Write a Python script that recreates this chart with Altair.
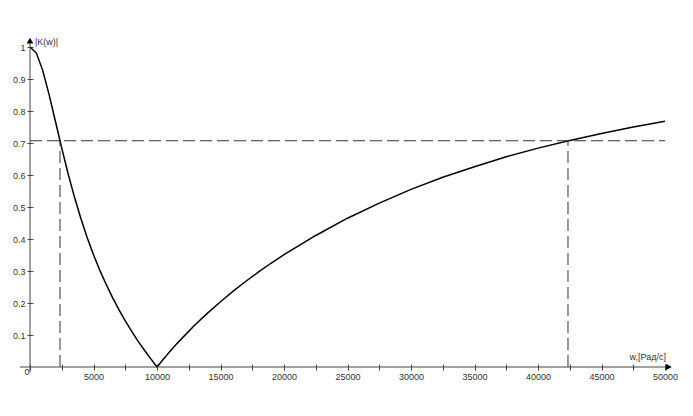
import altair as alt
import pandas as pd

# frequency (rad/s) and |K(w)|
w_vals = [0, 500, 1000, 1500, 2000, 2362, 2500, 3000, 3500, 4000, 4500, 5000, 5500,
          6000, 6500, 7000, 7500, 8000, 8500, 9000, 9500, 10000,
          10500, 11000, 11500, 12000, 13000, 14000, 15000, 16000, 17000, 18000, 19000,
          20000, 22500, 25000, 27500, 30000,
          32500, 35000, 37500, 40000, 42500, 45000, 47500, 50000]
k_vals = [1.0, 0.981, 0.927, 0.852, 0.768, 0.707, 0.684, 0.604, 0.531, 0.465, 0.405, 0.351, 0.302,
          0.258, 0.217, 0.179, 0.144, 0.112, 0.081, 0.053, 0.026, 0.0,
          0.024, 0.048, 0.070, 0.091, 0.132, 0.169, 0.204, 0.237, 0.268, 0.297, 0.325,
          0.351, 0.411, 0.465, 0.512, 0.555,
          0.593, 0.626, 0.657, 0.684, 0.708, 0.730, 0.750, 0.768]

level = 0.707
w_cut = [2362, 42362]
x_ticks = list(range(0, 50001, 2500))
y_ticks = [0.1, 0.2, 0.3, 0.4, 0.5, 0.6, 0.7, 0.8, 0.9, 1.0]
x_axis_extent = [-800, 50300]
y_axis_extent = [-0.016, 1.02]

FONT = "Liberation Sans"
AX = "#444444"

xs = alt.Scale(domain=[0, 50000], nice=False, zero=False)
ys = alt.Scale(domain=[0, 1], nice=False, zero=False)

curve_df = pd.DataFrame({"w": w_vals, "k": k_vals})

AXX = alt.Axis(values=x_ticks, offset=-3, tickSize=6, domain=False, grid=False,
               labelExpr="datum.value % 5000 == 0 && datum.value > 0 ? datum.label : ''",
               format="d", labelPadding=2, labelFontSize=9, labelFont=FONT,
               labelColor="#333333", tickColor=AX, title=None, labelFlush=False,
               labelOverlap=False)
AXY = alt.Axis(values=y_ticks, offset=-3, tickSize=6, domain=False, grid=False,
               format="~g", labelPadding=2, labelFontSize=9, labelFont=FONT,
               labelColor="#333333", tickColor=AX, title=None, labelOverlap=False,
               labelFlush=False)


def X(f):
    return alt.X(f, scale=xs, axis=AXX)


def Y(f):
    return alt.Y(f, scale=ys, axis=AXY)


curve = alt.Chart(curve_df).mark_line(color="black", strokeWidth=1.5, interpolate="linear").encode(
    x=X("w:Q"), y=Y("k:Q"))

hline = alt.Chart(pd.DataFrame({"x1": [0], "x2": [50000], "y": [level]})).mark_rule(
    color="#333333", strokeDash=[12, 5], strokeWidth=1).encode(
    x=X("x1:Q"), x2="x2:Q", y=Y("y:Q"))

vlines = alt.Chart(pd.DataFrame({"x": w_cut, "y1": [0, 0], "y2": [level, level]})).mark_rule(
    color="#333333", strokeDash=[12, 5], strokeWidth=1).encode(
    x=X("x:Q"), y=Y("y1:Q"), y2="y2:Q")

xaxis_line = alt.Chart(pd.DataFrame({"x1": [x_axis_extent[0]], "x2": [x_axis_extent[1]], "y": [0]})).mark_rule(
    color=AX, strokeWidth=1).encode(x=X("x1:Q"), x2="x2:Q", y=Y("y:Q"))
yaxis_line = alt.Chart(pd.DataFrame({"x": [0], "y1": [y_axis_extent[0]], "y2": [y_axis_extent[1]]})).mark_rule(
    color=AX, strokeWidth=1).encode(x=X("x:Q"), y=Y("y1:Q"), y2="y2:Q")

x_arrow = alt.Chart(pd.DataFrame({"x": [x_axis_extent[1]], "y": [0]})).mark_point(
    shape="triangle-right", filled=True, color="black", size=45, opacity=1).encode(
    x=X("x:Q"), y=Y("y:Q"))
y_arrow = alt.Chart(pd.DataFrame({"x": [0], "y": [y_axis_extent[1]]})).mark_point(
    shape="triangle-up", filled=True, color="black", size=45, opacity=1).encode(
    x=X("x:Q"), y=Y("y:Q"))

y_title = alt.Chart(pd.DataFrame({"t": ["|K(w)|"]})).mark_text(
    align="left", baseline="middle", fontSize=9, font=FONT, color="#333333").encode(
    x=alt.value(5), y=alt.value(-5), text="t:N")
x_title = alt.Chart(pd.DataFrame({"t": ["w,[Рад/с]"]})).mark_text(
    align="right", baseline="middle", fontSize=9, font=FONT, color="#333333").encode(
    x=alt.value(636), y=alt.value(-10 + 320), text="t:N")
origin = alt.Chart(pd.DataFrame({"t": ["0"]})).mark_text(
    align="center", baseline="middle", fontSize=9, font=FONT, color="#333333").encode(
    x=alt.value(-3), y=alt.value(325), text="t:N")

chart = alt.layer(curve, xaxis_line, yaxis_line, hline, vlines, x_arrow, y_arrow,
                  y_title, x_title, origin).properties(
    width=635, height=320,
    autosize=alt.AutoSizeParams(type="none"),
    padding={"left": 22, "top": 39, "right": 20, "bottom": 30},
    background="white",
).configure_view(stroke=None).configure_axis(labelOverlap=False, labelFlush=False)

chart.save("out.html", embed_options={"renderer": "svg", "actions": False})
